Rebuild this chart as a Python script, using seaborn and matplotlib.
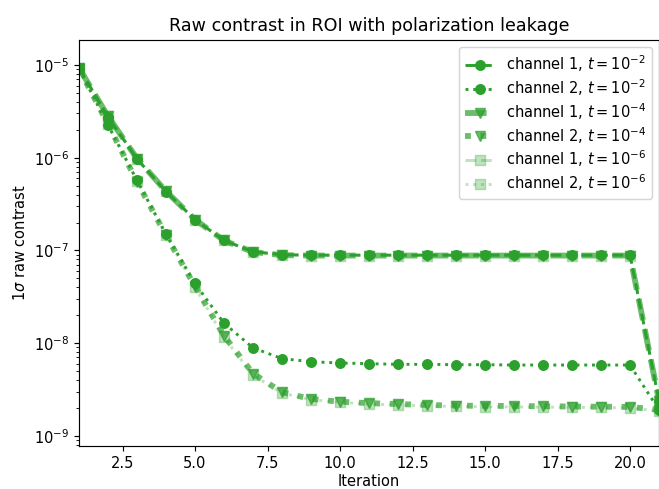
import numpy as np
import pandas as pd
import matplotlib
matplotlib.use("Agg")
import matplotlib.pyplot as plt
import seaborn as sns

iterations = list(range(1, 22))

# channel 1 / channel 2 contrast for each leakage level t
ch1_t2 = [9.3e-6, 2.75e-6, 9.7e-7, 4.3e-7, 2.15e-7, 1.28e-7, 9.7e-8, 9.0e-8, 8.9e-8, 8.9e-8,
          8.9e-8, 8.9e-8, 8.9e-8, 8.9e-8, 8.9e-8, 8.9e-8, 8.9e-8, 8.9e-8, 8.9e-8, 8.9e-8, 2.4e-9]
ch2_t2 = [9.1e-6, 2.25e-6, 5.7e-7, 1.5e-7, 4.4e-8, 1.64e-8, 8.9e-9, 6.8e-9, 6.3e-9, 6.1e-9,
          6.0e-9, 5.9e-9, 5.9e-9, 5.85e-9, 5.85e-9, 5.8e-9, 5.8e-9, 5.8e-9, 5.8e-9, 5.8e-9, 1.9e-9]
ch1_t4 = [9.3e-6, 2.8e-6, 9.8e-7, 4.35e-7, 2.15e-7, 1.28e-7, 9.6e-8, 8.9e-8, 8.8e-8, 8.8e-8,
          8.8e-8, 8.8e-8, 8.8e-8, 8.8e-8, 8.8e-8, 8.8e-8, 8.8e-8, 8.8e-8, 8.8e-8, 8.8e-8, 2.4e-9]
ch2_t4 = [9.1e-6, 2.3e-6, 5.5e-7, 1.45e-7, 4.1e-8, 1.2e-8, 4.7e-9, 2.95e-9, 2.5e-9, 2.33e-9,
          2.25e-9, 2.2e-9, 2.15e-9, 2.12e-9, 2.1e-9, 2.1e-9, 2.08e-9, 2.07e-9, 2.06e-9, 2.05e-9, 1.9e-9]
ch1_t6 = [9.3e-6, 2.85e-6, 9.8e-7, 4.35e-7, 2.15e-7, 1.28e-7, 9.6e-8, 8.9e-8, 8.8e-8, 8.8e-8,
          8.8e-8, 8.8e-8, 8.8e-8, 8.8e-8, 8.8e-8, 8.8e-8, 8.8e-8, 8.8e-8, 8.8e-8, 8.8e-8, 2.4e-9]
ch2_t6 = [9.1e-6, 2.3e-6, 5.6e-7, 1.45e-7, 4.0e-8, 1.15e-8, 4.5e-9, 2.9e-9, 2.45e-9, 2.3e-9,
          2.2e-9, 2.15e-9, 2.1e-9, 2.08e-9, 2.06e-9, 2.05e-9, 2.04e-9, 2.03e-9, 2.02e-9, 2.0e-9, 1.85e-9]

labels = [r"channel 1, $t = 10^{-2}$", r"channel 2, $t = 10^{-2}$",
          r"channel 1, $t = 10^{-4}$", r"channel 2, $t = 10^{-4}$",
          r"channel 1, $t = 10^{-6}$", r"channel 2, $t = 10^{-6}$"]
series = [ch1_t2, ch2_t2, ch1_t4, ch2_t4, ch1_t6, ch2_t6]

styles = [
    dict(ls="--", marker="o", lw=2, alpha=1.0),
    dict(ls=":", marker="o", lw=2, alpha=1.0),
    dict(ls="--", marker="v", lw=4, alpha=0.7),
    dict(ls=":", marker="v", lw=4, alpha=0.7),
    dict(ls="--", marker="s", lw=2, alpha=0.3),
    dict(ls=":", marker="s", lw=2, alpha=0.3),
]

color = "#2ca02c"
DPI = 105

fig = plt.figure(figsize=(659 / DPI, 489 / DPI), dpi=DPI)
ax = fig.add_axes([79 / 659, 1 - 446 / 489, 580 / 659, 406 / 489])

handles = []
for lab, vals, st in zip(labels, series, styles):
    df = pd.DataFrame({"Iteration": iterations, "contrast": vals})
    n_before = len(ax.lines)
    sns.lineplot(data=df, x="Iteration", y="contrast", ax=ax, color=color,
                 marker=st["marker"], markersize=6.5, markeredgecolor=color,
                 markeredgewidth=1, linewidth=st["lw"], alpha=st["alpha"], label=lab)
    line = ax.lines[n_before]
    line.set_linestyle(st["ls"])
    handles.append(line)

ax.set_yscale("log")
ax.set_xlim(1, 21)
ax.set_ylim(10 ** -9.11, 10 ** -4.73)
ax.set_xlabel("Iteration", labelpad=2)
ax.set_ylabel(r"1$\sigma$ raw contrast")
ax.set_title("Raw contrast in ROI with polarization leakage")
ax.legend(handles=handles, labels=labels, loc="upper right", labelspacing=0.22)

fig.savefig("out.png", dpi=DPI)
